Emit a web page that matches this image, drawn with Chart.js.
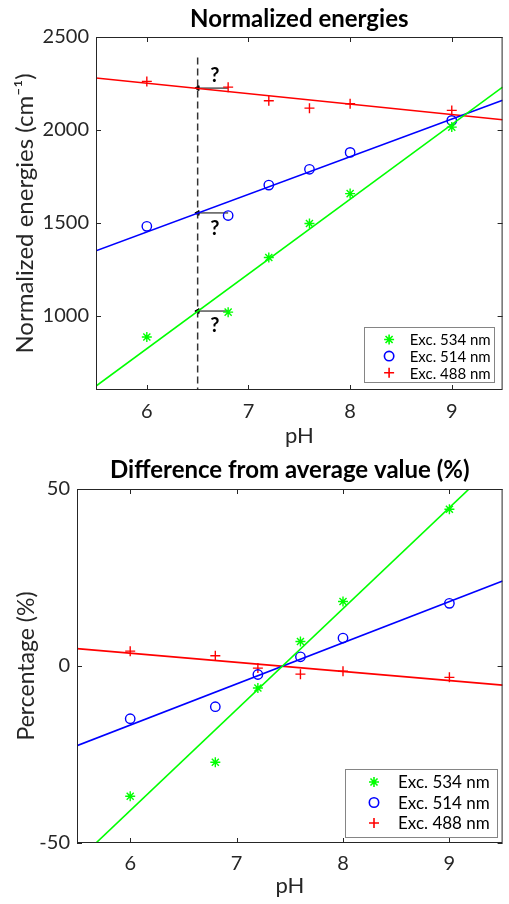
<!DOCTYPE html>
<html>
<head>
<meta charset="utf-8">
<script src="https://cdn.jsdelivr.net/npm/chart.js@4.4.0/dist/chart.umd.min.js"></script>
<style>
  html, body { margin: 0; padding: 0; background: #fff; }
  #wrap { position: relative; width: 509px; height: 904px; }
  canvas { position: absolute; left: 0; }
</style>
</head>
<body>
<div id="wrap">
  <canvas id="energies" width="509" height="452" style="top:0"></canvas>
  <canvas id="percent" width="509" height="452" style="top:452px"></canvas>
</div>
<script>
// measured pH values
var pH = [6, 6.8, 7.2, 7.6, 8, 9];

// normalized energies (cm-1)
var energy534 = [885, 1019, 1313, 1496, 1657, 2015];
var energy514 = [1481, 1539, 1703, 1788, 1879, 2051];
var energy488 = [2261, 2230, 2157, 2117, 2141, 2105];

// linear fits, evaluated at the x limits
var fitX = [5.5, 9.5];
var fitEnergy534 = [621, 2230];
var fitEnergy514 = [1349, 2159];
var fitEnergy488 = [2279, 2055];

// difference from average value (%)
var pct534 = [-36.8, -27.2, -6.2, 6.9, 18.2, 44.3];
var pct514 = [-14.9, -11.5, -2.4, 2.6, 7.9, 17.7];
var pct488 = [4.2, 2.9, -0.6, -2.3, -1.5, -3.2];
var fitPct534 = [-55.1, 59.0];
var fitPct514 = [-22.5, 24.0];
var fitPct488 = [4.9, -5.4];

// the pH 6.5 guide, arrows and question marks
var guideX = [6.5, 6.5];
var guideY = [2390, 600];
var arrowX = [6.8, 6.5];
var arrowY = [2225, 1553, 1025];
var questionX = 6.67;
var questionY = [2293, 1471, 949];

var xTicks = [6, 7, 8, 9];
var yTicksEnergy = [1000, 1500, 2000, 2500];
var yTicksPct = [-50, 0, 50];
var legendLabels = ['Exc. 534 nm', 'Exc. 514 nm', 'Exc. 488 nm'];

var FONT = 'Lato';
var GREEN = '#00ff00', BLUE = '#0000ff', RED = '#ff0000', AXIS = '#262626';
var seriesStyle = [
  { color: GREEN, pointStyle: 'star', radius: 5 },
  { color: BLUE, pointStyle: 'circle', radius: 4.7 },
  { color: RED, pointStyle: 'cross', radius: 5 }
];

function pts(xs, ys) {
  return xs.map(function (x, i) { return { x: x, y: ys[i] }; });
}

function markerSet(label, xs, ys, s) {
  return {
    label: label, data: pts(xs, ys), showLine: false,
    pointStyle: s.pointStyle, pointRadius: s.radius, pointHoverRadius: s.radius,
    borderColor: s.color, pointBorderColor: s.color, backgroundColor: 'rgba(0,0,0,0)',
    pointBorderWidth: 1.4
  };
}

function fitSet(xs, ys, color) {
  return {
    data: pts(xs, ys), showLine: true, pointRadius: 0,
    borderColor: color, borderWidth: 1.6, fill: false
  };
}

// axes box with inward tick marks on all four sides
var framePlugin = {
  id: 'frame',
  afterDatasetsDraw: function (chart) {
    var a = chart.chartArea, ctx = chart.ctx;
    var sx = chart.scales.x, sy = chart.scales.y;
    ctx.save();
    ctx.strokeStyle = AXIS;
    ctx.lineWidth = 1;
    ctx.strokeRect(a.left + 0.5, a.top + 0.5, a.right - a.left - 1, a.bottom - a.top - 1);
    ctx.beginPath();
    sx.ticks.forEach(function (t) {
      var p = Math.round(sx.getPixelForValue(t.value)) + 0.5;
      ctx.moveTo(p, a.bottom); ctx.lineTo(p, a.bottom - 5);
      ctx.moveTo(p, a.top); ctx.lineTo(p, a.top + 5);
    });
    sy.ticks.forEach(function (t) {
      var p = Math.round(sy.getPixelForValue(t.value)) + 0.5;
      ctx.moveTo(a.left, p); ctx.lineTo(a.left + 5, p);
      ctx.moveTo(a.right, p); ctx.lineTo(a.right - 5, p);
    });
    ctx.stroke();
    ctx.restore();
  }
};

// boxed legend in the lower right corner of the axes
var boxLegend = {
  id: 'boxLegend',
  afterDraw: function (chart, args, o) {
    var a = chart.chartArea, ctx = chart.ctx;
    var x = a.right - o.gapRight - o.width, y = a.bottom - o.gapBottom - o.height;
    ctx.save();
    ctx.fillStyle = '#fff';
    ctx.fillRect(x, y, o.width, o.height);
    ctx.strokeStyle = '#858585';
    ctx.lineWidth = 1;
    ctx.strokeRect(Math.round(x) + 0.5, Math.round(y) + 0.5, o.width, o.height);
    ctx.font = o.fontSize + 'px ' + FONT;
    ctx.textBaseline = 'middle';
    legendLabels.forEach(function (label, i) {
      var s = seriesStyle[i];
      var ry = y + o.firstRow + i * o.rowStep;
      ctx.strokeStyle = s.color;
      ctx.fillStyle = 'rgba(0,0,0,0)';
      ctx.lineWidth = 1.6;
      Chart.helpers.drawPoint(ctx, { pointStyle: s.pointStyle, radius: s.radius, borderWidth: 1.6, rotation: 0 }, x + o.markerX, ry);
      ctx.fillStyle = '#000';
      ctx.fillText(label, x + o.textX, ry + 1);
    });
    ctx.restore();
  }
};

// question marks next to the arrows
var questionPlugin = {
  id: 'questions',
  afterDatasetsDraw: function (chart, args, o) {
    if (!o.show) return;
    var ctx = chart.ctx, sx = chart.scales.x, sy = chart.scales.y;
    ctx.save();
    ctx.font = 'bold 20px ' + FONT;
    ctx.fillStyle = '#000';
    ctx.textAlign = 'center';
    ctx.textBaseline = 'middle';
    questionY.forEach(function (v) {
      ctx.fillText('?', sx.getPixelForValue(questionX), sy.getPixelForValue(v));
    });
    ctx.restore();
  }
};

function makeOptions(p) {
  return {
    responsive: false,
    animation: false,
    events: [],
    layout: { padding: { left: 0, right: 509 - p.right, top: 0, bottom: 0 } },
    plugins: {
      legend: { display: false },
      tooltip: { enabled: false },
      title: {
        display: true, text: p.title, fullSize: false, color: '#000',
        font: { family: FONT, size: 24, weight: 'bold' },
        padding: { top: p.titleTop, bottom: p.top - p.titleTop - 28.8 }
      },
      boxLegend: p.legend,
      questions: { show: p.questions }
    },
    scales: {
      x: {
        type: 'linear', min: 5.5, max: 9.5,
        grid: { display: false, drawTicks: false },
        border: { display: false },
        afterBuildTicks: function (s) { s.ticks = xTicks.map(function (v) { return { value: v }; }); },
        afterFit: function (s) { s.height = 452 - p.bottom; },
        ticks: {
          color: AXIS, padding: p.xTickPad, font: { family: FONT, size: 20 },
          callback: function (v) { return String(v); }
        },
        title: { display: true, text: 'pH', color: AXIS, font: { family: FONT, size: 22 }, padding: { top: 0, bottom: p.xTitlePad } }
      },
      y: {
        type: 'linear', min: p.yMin, max: p.yMax,
        grid: { display: false, drawTicks: false },
        border: { display: false },
        afterBuildTicks: function (s) { s.ticks = p.yTicks.map(function (v) { return { value: v }; }); },
        afterFit: function (s) { s.width = p.left; },
        ticks: {
          color: AXIS, padding: 7, font: { family: FONT, size: 20 },
          callback: function (v) { return String(v); }
        },
        title: { display: true, text: p.yTitle, color: AXIS, font: { family: FONT, size: p.yTitleSize }, padding: { top: p.yTitlePad, bottom: 0 } }
      }
    }
  };
}

var energyData = {
  datasets: [
    fitSet(fitX, fitEnergy534, GREEN),
    fitSet(fitX, fitEnergy514, BLUE),
    fitSet(fitX, fitEnergy488, RED),
    markerSet(legendLabels[0], pH, energy534, seriesStyle[0]),
    markerSet(legendLabels[1], pH, energy514, seriesStyle[1]),
    markerSet(legendLabels[2], pH, energy488, seriesStyle[2]),
    {
      data: pts(guideX, guideY), showLine: true, pointRadius: 0,
      borderColor: '#333333', borderWidth: 1.5, borderDash: [7, 4]
    }
  ].concat(arrowY.map(function (v) {
    return {
      data: pts(arrowX, [v, v]), showLine: true, borderColor: '#000', borderWidth: 1,
      pointStyle: 'triangle', pointRotation: -90, pointRadius: [0, 2.8],
      pointBackgroundColor: '#000', pointBorderColor: '#000', pointBorderWidth: 1
    };
  }))
};

new Chart(document.getElementById('energies'), {
  type: 'scatter',
  data: energyData,
  options: makeOptions({
    title: 'Normalized energies', left: 96, right: 506, top: 37, bottom: 390, titleTop: 4.6,
    xTickPad: 9.7, xTitlePad: 2.8, yTitlePad: 10.6, yTitleSize: 24,
    yMin: 600, yMax: 2500, yTicks: yTicksEnergy, yTitle: 'Normalized energies (cm⁻¹)',
    questions: true,
    legend: { width: 130, height: 55, gapRight: 8.5, gapBottom: 8, markerX: 25, textX: 45.6, firstRow: 12.5, rowStep: 16.6, fontSize: 15 }
  }),
  plugins: [framePlugin, boxLegend, questionPlugin]
});

new Chart(document.getElementById('percent'), {
  type: 'scatter',
  data: {
    datasets: [
      fitSet(fitX, fitPct534, GREEN),
      fitSet(fitX, fitPct514, BLUE),
      fitSet(fitX, fitPct488, RED),
      markerSet(legendLabels[0], pH, pct534, seriesStyle[0]),
      markerSet(legendLabels[1], pH, pct514, seriesStyle[1]),
      markerSet(legendLabels[2], pH, pct488, seriesStyle[2])
    ]
  },
  options: makeOptions({
    title: 'Difference from average value (%)', left: 77, right: 506, top: 37, bottom: 391, titleTop: 3.6,
    xTickPad: 8.3, xTitlePad: 5.3, yTitlePad: 12.7, yTitleSize: 23,
    yMin: -50, yMax: 50, yTicks: yTicksPct, yTitle: 'Percentage (%)',
    questions: false,
    legend: { width: 152, height: 68, gapRight: 6, gapBottom: 6.3, markerX: 29.4, textX: 53.4, firstRow: 13.3, rowStep: 20.5, fontSize: 17 }
  }),
  plugins: [framePlugin, boxLegend, questionPlugin]
});
</script>
</body>
</html>
